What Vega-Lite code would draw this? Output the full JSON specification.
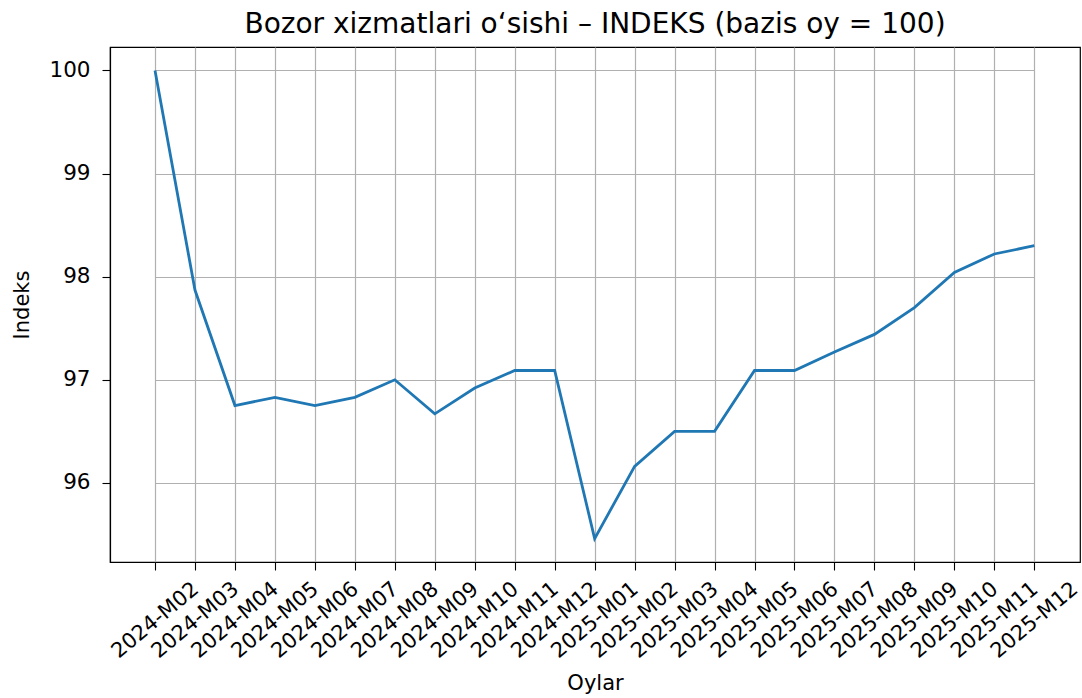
{
  "$schema": "https://vega.github.io/schema/vega-lite/v6.json",
  "width": 970,
  "height": 515,
  "autosize": {"type": "none"},
  "padding": {"left": 110, "top": 47, "right": 2, "bottom": 136},
  "background": "white",
  "title": {
    "text": "Bozor xizmatlari o‘sishi – INDEKS (bazis oy = 100)",
    "font": "DejaVu Sans",
    "fontSize": 28,
    "fontWeight": "normal",
    "color": "#000000",
    "offset": 8,
    "anchor": "middle"
  },
  "data": {
    "values": [
      {"oy": "2024-M02", "indeks": 100.0},
      {"oy": "2024-M03", "indeks": 97.87},
      {"oy": "2024-M04", "indeks": 96.75},
      {"oy": "2024-M05", "indeks": 96.83},
      {"oy": "2024-M06", "indeks": 96.75},
      {"oy": "2024-M07", "indeks": 96.83},
      {"oy": "2024-M08", "indeks": 97.0},
      {"oy": "2024-M09", "indeks": 96.67},
      {"oy": "2024-M10", "indeks": 96.92},
      {"oy": "2024-M11", "indeks": 97.09},
      {"oy": "2024-M12", "indeks": 97.09},
      {"oy": "2025-M01", "indeks": 95.46},
      {"oy": "2025-M02", "indeks": 96.16},
      {"oy": "2025-M03", "indeks": 96.5},
      {"oy": "2025-M04", "indeks": 96.5},
      {"oy": "2025-M05", "indeks": 97.09},
      {"oy": "2025-M06", "indeks": 97.09},
      {"oy": "2025-M07", "indeks": 97.27},
      {"oy": "2025-M08", "indeks": 97.44},
      {"oy": "2025-M09", "indeks": 97.7},
      {"oy": "2025-M10", "indeks": 98.04},
      {"oy": "2025-M11", "indeks": 98.22},
      {"oy": "2025-M12", "indeks": 98.3}
    ]
  },
  "mark": {"type": "line", "color": "#1f77b4", "strokeWidth": 2.8},
  "encoding": {
    "x": {
      "field": "oy",
      "type": "ordinal",
      "sort": null,
      "scale": {"type": "point", "padding": 0, "range": [45, 924.3]},
      "axis": {
        "title": "Oylar",
        "labelAngle": -40,
        "labelAlign": "center",
        "labelBaseline": "middle",
        "labelPadding": 50,
        "labelOverlap": false,
        "labelFlush": false,
        "titleX": 485,
        "titleY": 121,
        "titleBaseline": "middle",
        "grid": true
      }
    },
    "y": {
      "field": "indeks",
      "type": "quantitative",
      "scale": {"domain": [95.233, 100.227], "zero": false, "nice": false},
      "axis": {
        "title": "Indeks",
        "values": [96, 97, 98, 99, 100],
        "labelPadding": 12,
        "labelFontSize": 21.5,
        "titleX": -88,
        "titleBaseline": "middle",
        "grid": true
      }
    }
  },
  "config": {
    "view": {"stroke": "#000000", "strokeWidth": 1.2},
    "axis": {
      "gridColor": "#b0b0b0",
      "gridWidth": 1.2,
      "gridOpacity": 1,
      "domainColor": "#000000",
      "domainWidth": 1.2,
      "tickColor": "#000000",
      "tickSize": 8,
      "tickWidth": 1.1,
      "labelFont": "DejaVu Sans",
      "titleFont": "DejaVu Sans",
      "labelColor": "#000000",
      "titleColor": "#000000",
      "titleFontWeight": "normal",
      "labelFontSize": 21,
      "titleFontSize": 21
    }
  }
}
